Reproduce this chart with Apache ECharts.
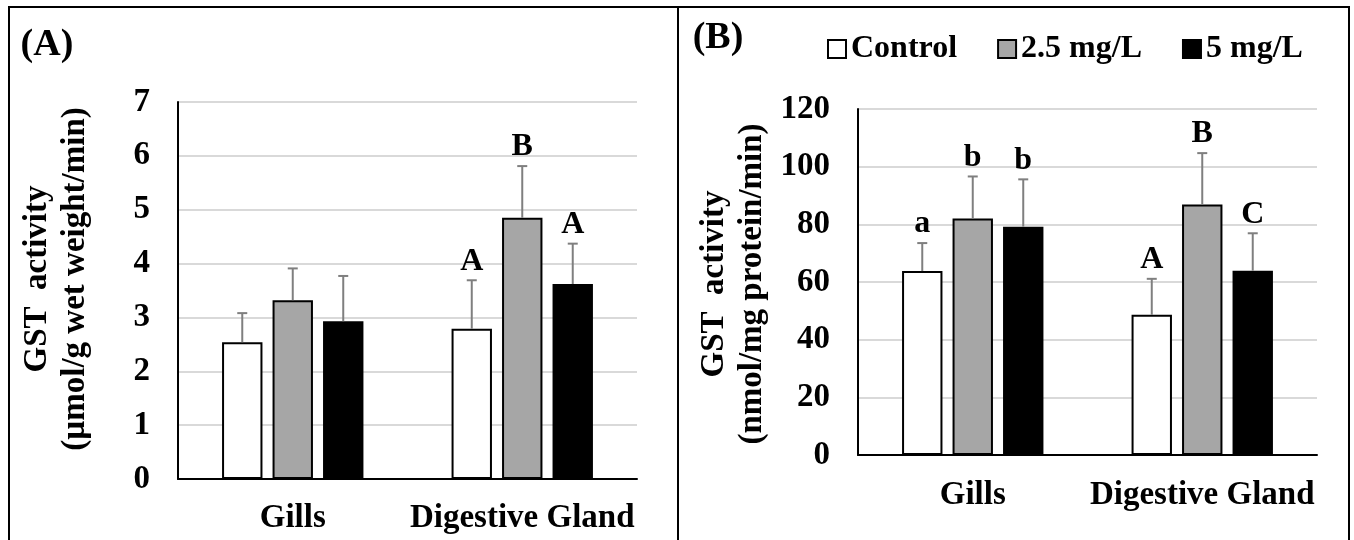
<!DOCTYPE html>
<html>
<head>
<meta charset="utf-8">
<script src="https://cdn.jsdelivr.net/npm/echarts@6/dist/echarts.min.js"></script>
<style>
	html, body { margin: 0; padding: 0; background: #fff; }
	#chart { width: 1354px; height: 540px; }
</style>
</head>
<body>
<div id="chart"></div>
<script type="text/javascript">
	// data
	var categories = ['Gills', 'Digestive Gland'];
	var seriesNames = ['Control', '2.5 mg/L', '5 mg/L'];

	// (A) GST, µmol/g wet weight/min
	var aControl = [2.54, 2.79];
	var a25 = [3.32, 4.85];
	var a5 = [2.93, 3.62];
	var aControlErr = [0.54, 0.90];
	var a25Err = [0.59, 0.96];
	var a5Err = [0.84, 0.75];
	var aControlTag = ['', 'A'];
	var a25Tag = ['', 'B'];
	var a5Tag = ['', 'A'];

	// (B) GST, nmol/mg protein/min
	var bControl = [63.8, 48.6];
	var b25 = [82.0, 86.9];
	var b5 = [79.2, 63.9];
	var bControlErr = [9.7, 12.5];
	var b25Err = [14.6, 17.8];
	var b5Err = [16.4, 13.0];
	var bControlTag = ['a', 'A'];
	var b25Tag = ['b', 'B'];
	var b5Tag = ['b', 'C'];

	var FONT = "'Liberation Serif', 'Times New Roman', serif";
	var fills = ['#ffffff', '#a6a6a6', '#000000'];
	var BAR_W = 0.176;   // share of category band
	var BAR_GAP = 0.25;  // share of bar width

	function barSeries(name, idx, values, grid) {
		return {
			name: name,
			type: 'bar',
			xAxisIndex: grid,
			yAxisIndex: grid,
			barWidth: (BAR_W * 100) + '%',
			barGap: (BAR_GAP * 100) + '%',
			itemStyle: { color: fills[idx], borderColor: '#000', borderWidth: 2 },
			emphasis: { disabled: true },
			data: values
		};
	}

	function errSeries(idx, values, errs, tags, grid) {
		var data = values.map(function (v, i) { return [i, v, errs[i]]; });
		return {
			type: 'custom',
			xAxisIndex: grid,
			yAxisIndex: grid,
			z: 5,
			silent: true,
			data: data,
			renderItem: function (params, api) {
				var c = api.value(0), v = api.value(1), s = api.value(2);
				var band = api.size([1, 0])[0];
				var bw = band * BAR_W;
				var off = (idx - 1) * bw * (1 + BAR_GAP);
				var base = api.coord([c, v]);
				var top = api.coord([c, v + s]);
				var x = base[0] + off;
				var lineStyle = { stroke: '#7f7f7f', lineWidth: 2 };
				var children = [
					{ type: 'line', shape: { x1: x, y1: base[1], x2: x, y2: top[1] }, style: lineStyle },
					{ type: 'line', shape: { x1: x - 5, y1: top[1], x2: x + 5, y2: top[1] }, style: lineStyle }
				];
				var tag = tags[params.dataIndex];
				if (tag) {
					children.push({
						type: 'text',
						x: x,
						y: top[1] - 3,
						style: {
							text: tag,
							font: 'bold 32px ' + FONT,
							fill: '#000',
							textAlign: 'center',
							textVerticalAlign: 'bottom'
						}
					});
				}
				return { type: 'group', children: children };
			}
		};
	}

	function xAxisOf(grid, margin) {
		return {
			type: 'category',
			gridIndex: grid,
			data: categories,
			axisLine: { lineStyle: { color: '#000', width: 2 } },
			axisTick: { show: false },
			axisLabel: { interval: 0, color: '#000', fontFamily: FONT, fontWeight: 'bold', fontSize: 33, margin: margin }
		};
	}

	function yAxisOf(grid, max, interval) {
		return {
			type: 'value',
			gridIndex: grid,
			min: 0,
			max: max,
			interval: interval,
			axisLine: { show: true, lineStyle: { color: '#000', width: 2 } },
			axisTick: { show: false },
			splitLine: { lineStyle: { color: '#d9d9d9', width: 2 } },
			axisLabel: { color: '#000', fontFamily: FONT, fontWeight: 'bold', fontSize: 33, margin: 28 }
		};
	}

	var chart = echarts.init(document.getElementById('chart'));
	var option = {
		animation: false,
		backgroundColor: '#fff',
		grid: [
			{ left: 178, right: 717, top: 102, bottom: 61 },
			{ left: 858, right: 37, top: 109, bottom: 85 }
		],
		xAxis: [xAxisOf(0, 23), xAxisOf(1, 24)],
		yAxis: [yAxisOf(0, 7, 1), yAxisOf(1, 120, 20)],
		legend: {
			left: 822,
			top: 28,
			icon: 'rect',
			itemWidth: 18,
			itemHeight: 18,
			itemGap: 40,
			data: seriesNames,
			textStyle: { color: '#000', fontFamily: FONT, fontWeight: 'bold', fontSize: 32 }
		},
		graphic: [
			{ type: 'rect', shape: { x: 9, y: 7, width: 1340, height: 560 }, style: { fill: null, stroke: '#000', lineWidth: 2 } },
			{ type: 'line', shape: { x1: 678, y1: 7, x2: 678, y2: 545 }, style: { stroke: '#000', lineWidth: 2 } },
			{ type: 'text', x: 47, y: 45, style: { text: '(A)', font: 'bold 38px ' + FONT, fill: '#000', textAlign: 'center', textVerticalAlign: 'middle' } },
			{ type: 'text', x: 718, y: 38, style: { text: '(B)', font: 'bold 38px ' + FONT, fill: '#000', textAlign: 'center', textVerticalAlign: 'middle' } },
			{ type: 'text', x: 56, y: 279, rotation: Math.PI / 2, style: { text: 'GST  activity\n(µmol/g wet weight/min)', font: 'bold 33px ' + FONT, lineHeight: 38, fill: '#000', textAlign: 'center', textVerticalAlign: 'middle' } },
			{ type: 'text', x: 733, y: 284, rotation: Math.PI / 2, style: { text: 'GST  activity\n(nmol/mg protein/min)', font: 'bold 33px ' + FONT, lineHeight: 38, fill: '#000', textAlign: 'center', textVerticalAlign: 'middle' } }
		],
		series: [
			barSeries(seriesNames[0], 0, aControl, 0),
			barSeries(seriesNames[1], 1, a25, 0),
			barSeries(seriesNames[2], 2, a5, 0),
			barSeries(seriesNames[0], 0, bControl, 1),
			barSeries(seriesNames[1], 1, b25, 1),
			barSeries(seriesNames[2], 2, b5, 1),
			errSeries(0, aControl, aControlErr, aControlTag, 0),
			errSeries(1, a25, a25Err, a25Tag, 0),
			errSeries(2, a5, a5Err, a5Tag, 0),
			errSeries(0, bControl, bControlErr, bControlTag, 1),
			errSeries(1, b25, b25Err, b25Tag, 1),
			errSeries(2, b5, b5Err, b5Tag, 1)
		]
	};
	chart.setOption(option);
	window.onresize = function () {
		chart.resize();
	};
</script>
</body>
</html>
